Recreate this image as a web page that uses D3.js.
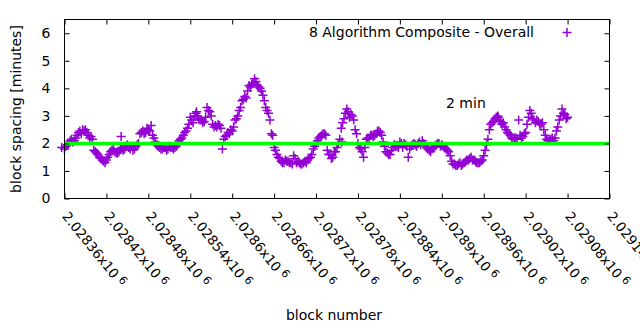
<!DOCTYPE html>
<html>
<head>
<meta charset="utf-8">
<script src="https://cdn.jsdelivr.net/npm/d3@7"></script>
<style>
  body { margin: 0; background: #fff; }
  svg text { font-family: "DejaVu Sans", sans-serif; font-size: 14px; fill: #000; }
</style>
</head>
<body>
<div id="chart"></div>
<script>
// ===== DATA =====
// [block number, block spacing in minutes]
const blockSpacing = [
  [2028356,1.85],[2028360,1.8],[2028362,1.9],[2028364,1.95],[2028368,2.1],[2028372,2.05],[2028376,2.2],[2028378,2.3],
  [2028380,2.4],[2028384,2.35],[2028386,2.5],[2028388,2.45],[2028392,2.4],[2028394,2.3],[2028396,2.2],[2028400,2.15],
  [2028402,1.75],[2028404,1.7],[2028408,1.6],[2028412,1.45],[2028416,1.35],[2028418,1.3],[2028420,1.4],[2028424,1.6],
  [2028428,1.75],[2028432,1.7],[2028436,1.65],[2028440,1.8],[2028441,2.25],[2028444,1.75],[2028448,1.9],[2028452,1.85],
  [2028456,1.9],[2028458,1.75],[2028460,1.8],[2028464,1.95],[2028468,2.35],[2028470,2.4],[2028472,2.45],[2028476,2.4],
  [2028480,2.5],[2028482,2.45],[2028484,2.65],[2028488,2.2],[2028492,1.95],[2028496,1.85],[2028498,1.8],[2028500,1.8],
  [2028504,1.85],[2028508,1.8],[2028512,1.85],[2028516,1.8],[2028520,1.9],[2028524,2.1],[2028528,2.2],[2028532,2.4],
  [2028536,2.55],[2028540,2.95],[2028544,2.75],[2028546,3.0],[2028548,3.1],[2028549,3.15],[2028552,2.9],[2028556,2.85],
  [2028560,2.8],[2028564,3.3],[2028566,3.2],[2028568,3.15],[2028572,2.7],[2028574,2.6],[2028576,2.65],[2028580,2.7],
  [2028584,2.55],[2028586,1.8],[2028588,2.15],[2028592,2.3],[2028596,2.35],[2028600,2.45],[2028604,2.85],[2028606,2.9],
  [2028608,3.0],[2028612,3.3],[2028616,3.6],[2028620,3.65],[2028624,4.1],[2028628,4.15],[2028630,4.2],[2028632,4.35],
  [2028636,4.1],[2028640,4.0],[2028642,3.9],[2028644,3.75],[2028648,3.3],[2028652,3.1],[2028656,2.35],[2028658,2.3],
  [2028660,1.85],[2028664,1.6],[2028668,1.45],[2028672,1.3],[2028676,1.4],[2028678,1.35],[2028680,1.35],[2028684,1.3],
  [2028688,1.55],[2028690,1.45],[2028692,1.3],[2028696,1.3],[2028700,1.25],[2028704,1.35],[2028708,1.4],[2028710,1.45],
  [2028712,1.5],[2028716,1.8],[2028720,2.0],[2028722,2.1],[2028724,2.2],[2028728,2.3],[2028732,2.35],[2028736,1.75],
  [2028738,1.6],[2028740,1.6],[2028742,1.45],[2028744,1.5],[2028748,1.7],[2028752,2.0],[2028756,2.55],[2028757,2.05],
  [2028760,2.9],[2028762,3.1],[2028764,3.25],[2028768,2.95],[2028770,3.05],[2028772,3.0],[2028776,2.5],[2028780,2.0],
  [2028784,1.8],[2028788,1.5],[2028792,2.15],[2028796,2.2],[2028800,2.3],[2028804,2.3],[2028806,2.35],[2028808,2.45],
  [2028810,2.45],[2028812,2.4],[2028816,2.05],[2028820,1.7],[2028824,1.6],[2028826,1.6],[2028828,1.75],[2028832,1.95],
  [2028836,1.9],[2028840,2.05],[2028844,1.85],[2028846,2.0],[2028848,1.95],[2028852,1.5],[2028856,1.9],[2028860,2.0],
  [2028862,1.95],[2028864,1.9],[2028868,2.05],[2028872,2.1],[2028874,2.0],[2028876,1.95],[2028880,1.8],[2028884,1.7],
  [2028888,1.85],[2028892,1.95],[2028894,2.0],[2028896,2.0],[2028900,1.95],[2028904,1.85],[2028908,1.75],[2028910,1.7],
  [2028912,1.55],[2028916,1.25],[2028920,1.2],[2028924,1.25],[2028926,1.3],[2028928,1.2],[2028932,1.3],[2028936,1.4],
  [2028938,1.4],[2028940,1.45],[2028944,1.4],[2028948,1.35],[2028952,1.3],[2028956,1.35],[2028960,1.55],[2028964,1.95],
  [2028968,2.5],[2028970,2.7],[2028972,2.75],[2028976,2.9],[2028978,2.95],[2028980,3.0],[2028981,2.95],[2028984,2.8],
  [2028988,2.75],[2028992,2.5],[2028996,2.35],[2029000,2.2],[2029004,2.2],[2029008,2.15],[2029010,2.85],[2029012,2.3],
  [2029016,2.25],[2029020,2.4],[2029024,2.95],[2029026,3.2],[2029028,3.1],[2029032,2.85],[2029034,2.75],[2029036,2.85],
  [2029040,2.7],[2029044,2.75],[2029048,2.3],[2029050,2.15],[2029052,2.1],[2029056,2.15],[2029060,2.1],[2029062,2.2],
  [2029064,2.45],[2029068,2.85],[2029072,3.25],[2029074,3.1],[2029076,3.05],[2029078,2.9],[2029080,2.95],
  [2028366,2.0],[2028370,2.15],[2028374,2.1],[2028382,2.45],[2028390,2.5],[2028398,2.25],[2028406,1.65],[2028410,1.5],
  [2028414,1.4],[2028422,1.5],[2028426,1.7],[2028430,1.8],[2028434,1.65],[2028438,1.7],[2028442,1.85],[2028446,1.8],
  [2028450,1.95],[2028454,1.8],[2028462,1.9],[2028466,2.0],[2028474,2.35],[2028478,2.55],[2028486,2.3],[2028490,2.05],
  [2028494,1.9],[2028502,1.85],[2028506,1.75],[2028510,1.9],[2028514,1.85],[2028518,1.85],[2028522,2.0],[2028526,2.15],
  [2028530,2.3],[2028534,2.45],[2028538,2.7],[2028542,2.85],[2028550,3.0],[2028554,2.85],[2028558,2.75],[2028562,2.95],
  [2028570,3.0],[2028578,2.6],[2028582,2.65],[2028590,2.25],[2028594,2.4],[2028598,2.5],[2028602,2.6],[2028610,3.2],
  [2028614,3.55],[2028618,3.7],[2028622,3.9],[2028626,4.05],[2028634,4.25],[2028638,4.05],[2028646,3.55],[2028650,3.2],
  [2028654,2.85],[2028662,1.75],[2028666,1.5],[2028670,1.35],[2028674,1.3],[2028682,1.3],[2028686,1.25],[2028694,1.35],
  [2028698,1.25],[2028702,1.3],[2028706,1.3],[2028714,1.6],[2028718,1.9],[2028726,2.25],[2028730,2.35],[2028734,2.3],
  [2028746,1.7],[2028750,1.85],[2028754,2.15],[2028758,2.75],[2028766,3.15],[2028774,2.85],[2028778,2.35],[2028782,1.85],
  [2028786,1.7],[2028790,1.85],[2028794,2.2],[2028798,2.3],[2028802,2.25],[2028814,2.3],[2028818,1.9],[2028822,1.65],
  [2028830,1.85],[2028834,1.9],[2028838,1.85],[2028842,2.0],[2028850,1.9],[2028854,1.8],[2028858,1.95],[2028866,2.0],
  [2028870,1.95],[2028878,1.85],[2028882,1.75],[2028886,1.8],[2028890,1.9],[2028898,1.9],[2028902,1.9],[2028906,1.8],
  [2028914,1.35],[2028918,1.25],[2028922,1.2],[2028930,1.25],[2028934,1.35],[2028942,1.5],[2028946,1.4],[2028950,1.3],
  [2028954,1.3],[2028958,1.4],[2028962,1.75],[2028966,2.15],[2028974,2.8],[2028982,2.85],[2028986,2.7],[2028990,2.6],
  [2028994,2.4],[2028998,2.3],[2029002,2.15],[2029006,2.2],[2029014,2.2],[2029018,2.35],[2029022,2.7],[2029030,2.9],
  [2029038,2.8],[2029042,2.7],[2029046,2.5],[2029054,2.1],[2029058,2.2],[2029066,2.6],[2029070,3.0]
];

const xTicks = [2028360,2028420,2028480,2028540,2028600,2028660,2028720,2028780,2028840,2028900,2028960,2029020,2029080,2029140];
const xTickLabels = ["2.02836","2.02842","2.02848","2.02854","2.0286","2.02866","2.02872","2.02878","2.02884","2.0289","2.02896","2.02902","2.02908","2.02914"];
const yTicks = [0,1,2,3,4,5,6];
const targetMinutes = 2;
const seriesName = "8 Algorithm Composite - Overall";

// ===== SIZE =====
const width = 640;
const height = 330;
const margin = { top: 19.5, right: 30.5, bottom: 131.5, left: 64.5 };
const innerW = width - margin.left - margin.right;
const innerH = height - margin.top - margin.bottom;

const purple = "#9400d3";
const green = "#00ff00";

const svg = d3.select("#chart")
  .append("svg")
  .attr("width", width)
  .attr("height", height);

const g = svg.append("g")
  .attr("transform", `translate(${margin.left},${margin.top})`);

const x = d3.scaleLinear()
  .domain([2028360, 2029140])
  .range([0, innerW]);

const y = d3.scaleLinear()
  .domain([0, 6.5])
  .range([innerH, 0]);

// cross marker path
function cross(s){
  return `M${-s},0H${s}M0,${-s}V${s}`;
}

// points
g.selectAll("path.pt")
  .data(blockSpacing)
  .join("path")
  .attr("class","pt")
  .attr("transform", d => `translate(${x(d[0])},${y(d[1])})`)
  .attr("d", cross(4.5))
  .attr("stroke", purple)
  .attr("stroke-width", 1.5)
  .attr("fill", "none");

// 2 min line
g.append("line")
  .attr("x1", x(2028360))
  .attr("x2", x(2029140))
  .attr("y1", y(targetMinutes))
  .attr("y2", y(targetMinutes))
  .attr("stroke", green)
  .attr("stroke-width", 3.5);

// ticks (inside, mirrored)
const tickLen = 5;
const xAxisB = g.append("g").attr("transform", `translate(0,${innerH})`)
  .call(d3.axisBottom(x).tickValues(xTicks).tickSizeInner(-tickLen).tickSizeOuter(0).tickFormat(""));
const xAxisT = g.append("g")
  .call(d3.axisTop(x).tickValues(xTicks).tickSizeInner(-tickLen).tickSizeOuter(0).tickFormat(""));
const yAxisL = g.append("g")
  .call(d3.axisLeft(y).tickValues(yTicks).tickSizeInner(-tickLen).tickSizeOuter(0).tickPadding(14).tickFormat(d3.format("d")));
const yAxisR = g.append("g").attr("transform", `translate(${innerW},0)`)
  .call(d3.axisRight(y).tickValues(yTicks).tickSizeInner(-tickLen).tickSizeOuter(0).tickFormat(""));

[xAxisB, xAxisT, yAxisL, yAxisR].forEach(a => {
  a.select(".domain").remove();
  a.selectAll("line").attr("stroke", "#000");
});
yAxisL.selectAll("text")
  .style("font-size", "14px");
yAxisL.attr("font-family", null).attr("font-size", null);

// frame
g.append("rect")
  .attr("width", innerW)
  .attr("height", innerH)
  .attr("fill", "none")
  .attr("stroke", "#000");

// rotated x tick labels
const xl = g.selectAll("text.xlab")
  .data(xTicks)
  .join("text")
  .attr("class","xlab")
  .style("font-size", "13.5px")
  .attr("transform", d => `translate(${x(d) - 3},${innerH + 18}) rotate(51)`);
xl.append("tspan").text((d,i) => xTickLabels[i] + "x10");
xl.append("tspan")
  .attr("dx", 4)
  .attr("dy", -4)
  .style("font-size", "11px")
  .text("6");

// axis titles
svg.append("text")
  .attr("transform", `translate(20.5,${margin.top + innerH / 2}) rotate(-90)`)
  .attr("text-anchor","middle")
  .text("block spacing [minutes]");

svg.append("text")
  .attr("x", 334)
  .attr("y", 320)
  .attr("text-anchor","middle")
  .text("block number");

// legend
svg.append("text")
  .attr("x", 534)
  .attr("y", 37)
  .attr("text-anchor","end")
  .text(seriesName);

svg.append("path")
  .attr("transform", "translate(567,32.5)")
  .attr("d", cross(4.5))
  .attr("stroke", purple)
  .attr("stroke-width", 1.5);

// 2 min label
svg.append("text")
  .attr("x", 446)
  .attr("y", 107.5)
  .text("2 min");
</script>
</body>
</html>
